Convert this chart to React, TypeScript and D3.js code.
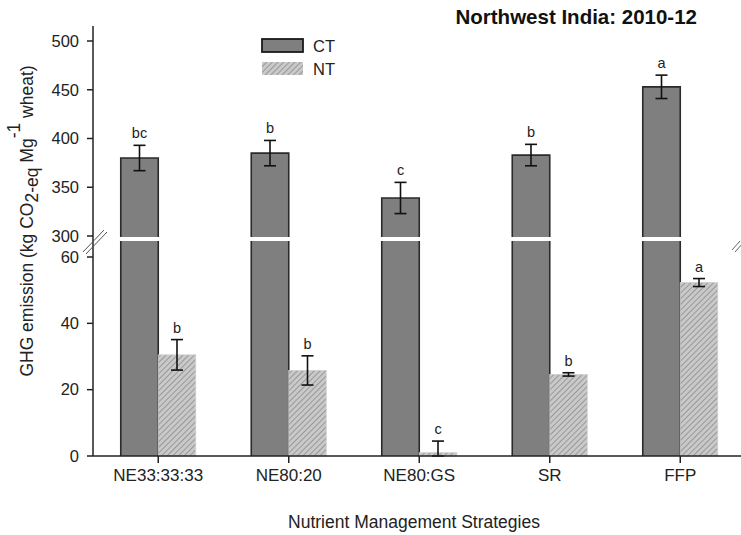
import React from "react";
import * as d3 from "d3";

const categories = ["NE33:33:33", "NE80:20", "NE80:GS", "SR", "FFP"];
const ctValues = [380, 385, 339, 383, 453];
const ctErrors = [13, 13, 16, 11, 12];
const ntValues = [30.5, 25.8, 1.0, 24.6, 52.3];
const ntErrors = [4.6, 4.4, 3.5, 0.5, 1.2];
const ctLetters = ["bc", "b", "c", "b", "a"];
const ntLetters = ["b", "b", "c", "b", "a"];
const lowerTicks = [0, 20, 40, 60];
const upperTicks = [300, 350, 400, 450, 500];
const seriesNames = ["CT", "NT"];

const W = 741;
const H = 535;
const FONT = "'Liberation Sans', Arial, Helvetica, sans-serif";

export default function App() {
  const axisX = 93;
  const baseY = 456;
  const lowerTop = 241;
  const upperBottom = 237;
  const axisTop = 26;

  const x = d3.scaleBand<string>().domain(categories).range([axisX, 745.5]).paddingInner(0).paddingOuter(0);
  const yLow = d3.scaleLinear().domain([0, 60]).range([baseY, 257]);
  const yUp = d3.scaleLinear().domain([300, 500]).range([236, 41]);
  const barW = 37.5;

  const ctColor = "#7f7f7f";
  const edge = "#2a2a2a";

  return (
    <svg width={W} height={H} style={{ position: "absolute", left: 0, top: 0, background: "#fff" }} fontFamily={FONT}>
      <defs>
        <pattern id="hatch" patternUnits="userSpaceOnUse" width="4" height="4" patternTransform="rotate(45)">
          <rect width="4" height="4" fill="#c9c9c9" />
          <line x1="0" y1="0" x2="0" y2="4" stroke="#8c8c8c" strokeWidth="1.6" />
        </pattern>
      </defs>

      {/* Title */}
      <text x={697} y={24} textAnchor="end" fontSize={20.5} fontWeight="bold" fill="#111">
        Northwest India: 2010-12
      </text>

      {/* Bars */}
      {categories.map((c, i) => {
        const cx = (x(c) as number) + x.bandwidth() / 2;
        const ctX = cx - barW;
        const ntX = cx;
        const ctTop = yUp(ctValues[i]);
        const ntTop = yLow(ntValues[i]);
        const ctHi = yUp(ctValues[i] + ctErrors[i]);
        const ctLo = yUp(ctValues[i] - ctErrors[i]);
        const ntHi = yLow(ntValues[i] + ntErrors[i]);
        const ntLo = yLow(Math.max(0, ntValues[i] - ntErrors[i]));
        const ctMid = ctX + barW / 2;
        const ntMid = ntX + barW / 2;
        return (
          <g key={c}>
            <rect x={ctX} y={lowerTop} width={barW} height={baseY - lowerTop} fill={ctColor} />
            <line x1={ctX} y1={lowerTop} x2={ctX} y2={baseY} stroke={edge} strokeWidth={1.6} />
            <line x1={ctX + barW} y1={lowerTop} x2={ctX + barW} y2={baseY} stroke={edge} strokeWidth={1.6} />
            <rect x={ctX} y={ctTop} width={barW} height={upperBottom - ctTop} fill={ctColor} />
            <path d={`M${ctX},${upperBottom}V${ctTop}H${ctX + barW}V${upperBottom}`} fill="none" stroke={edge} strokeWidth={1.6} />
            <line x1={ctMid} y1={ctHi} x2={ctMid} y2={ctLo} stroke="#111" strokeWidth={1.6} />
            <line x1={ctMid - 6} y1={ctHi} x2={ctMid + 6} y2={ctHi} stroke="#111" strokeWidth={1.6} />
            <line x1={ctMid - 6} y1={ctLo} x2={ctMid + 6} y2={ctLo} stroke="#111" strokeWidth={1.6} />
            <text x={ctMid} y={ctHi - 7} textAnchor="middle" fontSize={14.5} fill="#222">{ctLetters[i]}</text>
            <rect x={ntX} y={ntTop} width={barW} height={baseY - ntTop} fill="url(#hatch)" stroke="#cfcfcf" strokeWidth={0.8} />
            <line x1={ntMid} y1={ntHi} x2={ntMid} y2={ntLo} stroke="#111" strokeWidth={1.6} />
            <line x1={ntMid - 6} y1={ntHi} x2={ntMid + 6} y2={ntHi} stroke="#111" strokeWidth={1.6} />
            <line x1={ntMid - 6} y1={ntLo} x2={ntMid + 6} y2={ntLo} stroke="#111" strokeWidth={1.6} />
            <text x={ntMid} y={ntHi - 7} textAnchor="middle" fontSize={14.5} fill="#222">{ntLetters[i]}</text>
          </g>
        );
      })}

      {/* Y axis */}
      <line x1={axisX} y1={axisTop} x2={axisX} y2={baseY} stroke="#222" strokeWidth={1.5} />
      {upperTicks.map((t) => (
        <g key={"u" + t}>
          <line x1={axisX - 6} y1={yUp(t)} x2={axisX} y2={yUp(t)} stroke="#222" strokeWidth={1.5} />
          <text x={79} y={yUp(t)} dy="0.35em" textAnchor="end" fontSize={16.5} fill="#222">{t}</text>
        </g>
      ))}
      {lowerTicks.map((t) => (
        <g key={"l" + t}>
          <line x1={axisX - 6} y1={yLow(t)} x2={axisX} y2={yLow(t)} stroke="#222" strokeWidth={1.5} />
          <text x={79} y={yLow(t)} dy="0.35em" textAnchor="end" fontSize={16.5} fill="#222">{t}</text>
        </g>
      ))}
      <line x1={83} y1={252} x2={104} y2={230} stroke="#555" strokeWidth={1} />
      <line x1={86} y1={254} x2={107} y2={232} stroke="#555" strokeWidth={1} />
      <line x1={732} y1={250} x2={740} y2={241} stroke="#666" strokeWidth={1} />
      <line x1={735} y1={252} x2={743} y2={243} stroke="#666" strokeWidth={1} />

      {/* X axis */}
      <line x1={axisX} y1={baseY} x2={W} y2={baseY} stroke="#222" strokeWidth={1.5} />
      {categories.map((c) => {
        const cx = (x(c) as number) + x.bandwidth() / 2;
        return (
          <g key={"x" + c}>
            <line x1={cx} y1={baseY} x2={cx} y2={baseY + 7} stroke="#222" strokeWidth={1.5} />
            <text x={cx} y={481} textAnchor="middle" fontSize={17} fill="#222">{c}</text>
          </g>
        );
      })}

      {/* Axis titles */}
      <text x={414} y={528} textAnchor="middle" fontSize={17.5} fill="#222">Nutrient Management Strategies</text>
      <text transform="translate(33,221) rotate(-90)" textAnchor="middle" fontSize={17.5} fill="#222">
        GHG emission (kg CO<tspan dy={5}>2-eq</tspan><tspan dy={-5}> Mg</tspan><tspan dy={-13}>-1</tspan><tspan dy={13}> wheat)</tspan>
      </text>

      {/* Legend */}
      <rect x={262} y={39} width={41} height={13} fill={ctColor} stroke="#1a1a1a" strokeWidth={1.8} />
      <text x={313} y={46} dy="0.35em" fontSize={16.5} fill="#222">{seriesNames[0]}</text>
      <rect x={262} y={62} width={41} height={13} fill="url(#hatch)" />
      <text x={313} y={69} dy="0.35em" fontSize={16.5} fill="#222">{seriesNames[1]}</text>
    </svg>
  );
}
